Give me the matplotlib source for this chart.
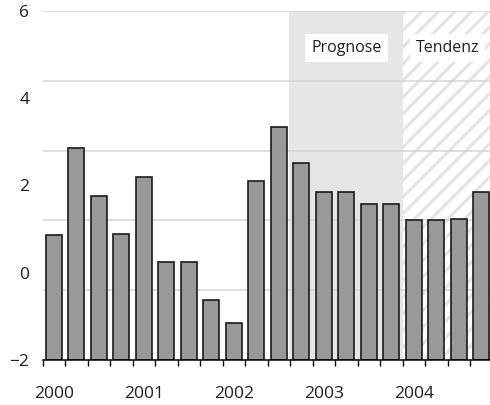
import matplotlib.pyplot as plt
import numpy as np

# quarterly values 2000 Q1 .. 2004 Q4
values = [0.86, 2.86, 1.76, 0.89, 2.19, 0.24, 0.24, -0.63, -1.15, 2.10,
          3.33, 2.52, 1.85, 1.85, 1.57, 1.57, 1.21, 1.21, 1.23, 1.85]
years = ["2000", "2001", "2002", "2003", "2004"]
y_labels = ["\u22122", "0", "2", "4", "6"]
regions = ["Prognose", "Tendenz"]

plt.rcParams['font.family'] = ['Open Sans', 'DejaVu Sans']
plt.rcParams['hatch.linewidth'] = 2.3

fig = plt.figure(figsize=(4.9, 4.05), dpi=100)
ax = fig.add_axes([0.0871, 0.111, 0.918, 0.862])

n = len(values)
x = np.arange(n)
base = -2

# shaded forecast / trend areas
ax.axvspan(10.45, 15.5, color='#e6e6e6', lw=0, zorder=0)
ax.axvspan(15.5, n - 0.5, facecolor='white', edgecolor='#e4e4e4',
           hatch='//', lw=0, zorder=0)

# grid (5 equal steps, independent of labels)
for g in np.linspace(-2, 6, 6)[1:]:
    ax.axhline(g, color='#d4d4d4', lw=1.1, zorder=1)

ax.bar(x, np.array(values) - base, bottom=base, width=0.71,
       color='#999999', edgecolor='#1a1a1a', linewidth=1.2, zorder=2)

ax.set_xlim(-0.5, n - 0.5)
ax.set_ylim(-2, 6)

ax.set_yticks([-2, 0, 2, 4, 6])
ax.set_yticklabels(y_labels, fontsize=12.5, color='#1e1e1e')
ax.tick_params(axis='y', length=0, pad=9.5)

ax.set_xticks(np.arange(-0.5, n, 1))
ax.set_xticklabels([])
ax.tick_params(axis='x', which='major', length=4.5, width=1, direction='out')
ax.set_xticks(np.arange(0, n, 4), minor=True)
ax.set_xticklabels(years, minor=True, fontsize=12.5, color='#1e1e1e')
ax.tick_params(axis='x', which='minor', length=0, pad=19)

for s in ['top', 'right', 'left']:
    ax.spines[s].set_visible(False)
ax.spines['bottom'].set_linewidth(1.1)
ax.spines['bottom'].set_zorder(3)

box = dict(facecolor='white', edgecolor='none', pad=4.5)
ax.text(13, 5.15, regions[0], ha='center', va='center', fontsize=11.5,
        color='#1e1e1e', bbox=box, zorder=4)
ax.text(17.5, 5.15, regions[1], ha='center', va='center', fontsize=11.5,
        color='#1e1e1e', bbox=box, zorder=4)

fig.savefig("out.png", dpi=100)
